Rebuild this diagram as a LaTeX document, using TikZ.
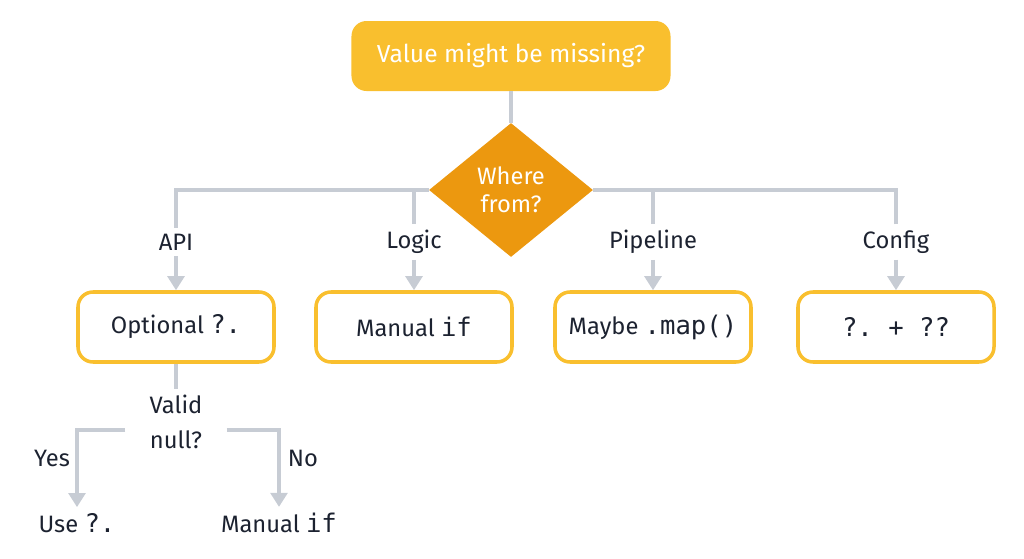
\documentclass[tikz,border=0pt]{standalone}
\usepackage{fontspec}
\setmainfont{Fira Sans}
\setmonofont[Scale=1.08]{DejaVu Sans Mono}
\usetikzlibrary{arrows.meta, positioning, shapes.geometric}
\definecolor{gold}  {HTML}{F9BF2E}
\definecolor{amber} {HTML}{EC980F}
\definecolor{wire}  {HTML}{C7CCD4}
\definecolor{ink}   {HTML}{1C2230}

\tikzset{
  link/.style={draw=wire, line width=2.2pt},
  tip/.style={link, -{Triangle[width=9.5pt, length=8pt]}},
  choice/.style={draw=gold, line width=2pt, fill=white, rounded corners=3mm,
    minimum width=39.2mm, minimum height=14mm, font=\fontsize{13.5}{16}\selectfont, text=ink},
  lbl/.style={font=\fontsize{13.5}{16}\selectfont, text=ink},
}

\begin{document}
\begin{tikzpicture}[x=0.2mm, y=-0.2mm]
  \useasboundingbox (0,0) rectangle (1024,559);
  % question and split
  \node[fill=gold, rounded corners=3mm, minimum width=63.8mm, minimum height=14mm,
    text=white, font=\fontsize{14}{17}\selectfont] (top) at (511,56) {Value might be missing?};
  \node[diamond, fill=amber, minimum width=32.8mm, minimum height=26.8mm, inner sep=0pt,
    text=white, align=center, font=\fontsize{13.5}{16}\selectfont] (where) at (511,190) {Where\\from?};
  \draw[link] (top) -- (where);
  % sources
  \node[lbl] (api)   at (176,242) {API};
  \node[lbl] (logic) at (414,242) {Logic};
  \node[lbl] (pipe)  at (653,242) {Pipeline};
  \node[lbl] (conf)  at (896,242) {Config};
  \draw[link] (api) |- (where.west);
  \draw[link] (logic) |- (where.west);
  \draw[link] (pipe) |- (where.east);
  \draw[link] (conf) |- (where.east);
  % choices
  \node[choice] (opt)   at (176,327) {Optional \texttt{?.}};
  \node[choice] (man)   at (414,327) {Manual \texttt{if}};
  \node[choice] (maybe) at (653,327) {Maybe \texttt{.map()}};
  \node[choice] (mix)   at (896,327) {\texttt{?. + ??}};
  \draw[tip] (api) -- (opt);
  \draw[tip] (logic) -- (man);
  \draw[tip] (pipe) -- (maybe);
  \draw[tip] (conf) -- (mix);
  % api follow-up
  \node[lbl, align=center, inner xsep=4.8mm, font=\fontsize{13.5}{20}\selectfont] (valid) at (176,422) {Valid\\null?};
  \node[lbl] (use)  at (77,523)  {Use \texttt{?.}};
  \node[lbl] (hand) at (279,523) {Manual \texttt{if}};
  \draw[link] (opt) -- (valid);
  \draw[tip] ([yshift=-1.6mm]valid.west) -| (use);
  \draw[tip] ([yshift=-1.6mm]valid.east) -| (hand);
  \node[lbl] (yes) at (52,458)  {Yes};
  \node[lbl] (no)  at (303,458) {No};
\end{tikzpicture}
\end{document}
